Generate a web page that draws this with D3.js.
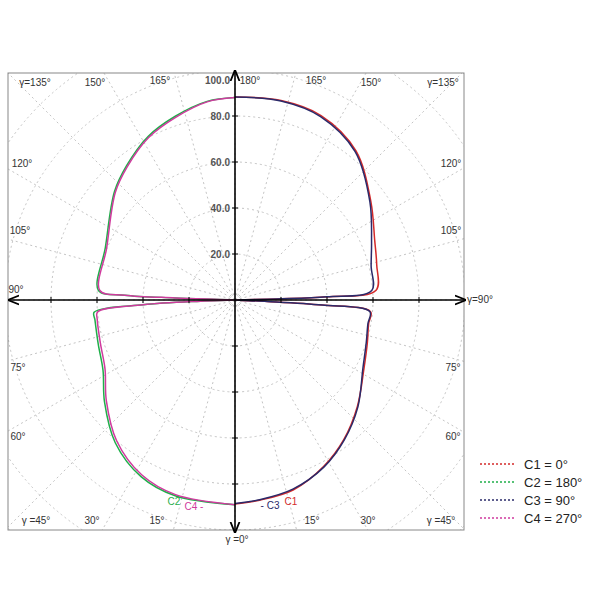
<!DOCTYPE html>
<html><head><meta charset="utf-8">
<script src="https://cdn.jsdelivr.net/npm/d3@7"></script>
<style>body{margin:0;background:#fff}text{font-family:"Liberation Sans",Arial,sans-serif}</style>
</head><body><svg id="c" width="600" height="600"></svg>
<script>
// gamma angles (deg, 0 = down, 180 = up) and intensity values per C-plane
const rightGamma = [0, 7, 17, 28, 38, 49, 62, 72, 80, 85, 86.7, 87.5, 90, 91.5, 92, 94, 104, 113, 126, 141, 155, 167, 180];
const c1Values   = [88.7, 87.7, 86.4, 82, 76.9, 70.5, 63.5, 60.5, 59, 59.2, 38, 14, 0, 18, 40, 61.5, 63.5, 66, 73, 83.5, 88.5, 89, 88.3];
const c3Values   = [88.5, 87.5, 86, 82.3, 77.2, 70.8, 63, 60, 58.7, 58.9, 38, 14, 0, 18, 40, 59.6, 61, 64.5, 72.5, 83, 88, 88.8, 88.3];
const leftGamma  = [0, 17, 28, 40, 52, 62, 72, 82, 85, 87, 88, 90, 92, 92.5, 94, 112, 132, 141, 152, 162, 172, 180];
const c2Values   = [89, 89, 87, 81, 72, 65, 62.5, 61.5, 61.5, 40, 15, 0, 26, 48, 59.5, 60.8, 70.5, 75, 80.5, 84, 87.2, 88];
const c4Values   = [89, 88.5, 86.2, 80, 71, 64, 61.5, 60.5, 60, 40, 15, 0, 26, 48, 58.9, 60.2, 70, 74.5, 80, 83.5, 87, 88];
const valueTicks = [20, 40, 60, 80, 100];
const legendLabels = ["C1 = 0°", "C2 = 180°", "C3 = 90°", "C4 = 270°"];
const colors = ["#d42a2a", "#1fae4a", "#2a2a6a", "#d03a9e"];

const svg = d3.select("#c");
const cx = 235, cy = 300, box = {x0: 8, y0: 73, x1: 464, y1: 530};
const r = d3.scaleLinear().domain([0, 20]).range([0, 46]);

svg.append("defs").append("clipPath").attr("id", "clip").append("rect")
  .attr("x", box.x0).attr("y", box.y0).attr("width", box.x1 - box.x0).attr("height", box.y1 - box.y0);
svg.append("defs").append("marker").attr("id", "arr").attr("viewBox", "0 0 10 10")
  .attr("refX", 9).attr("refY", 5).attr("markerWidth", 7).attr("markerHeight", 7).attr("orient", "auto-start-reverse")
  .append("path").attr("d", "M0,1L10,5L0,9").attr("fill", "none").attr("stroke", "#000").attr("stroke-width", 1.6);

const grid = svg.append("g").attr("clip-path", "url(#clip)");
grid.selectAll("circle").data(d3.range(20, 161, 20)).join("circle")
  .attr("cx", cx).attr("cy", cy).attr("r", d => r(d))
  .attr("fill", "none").attr("stroke", "#c4c4c4").attr("stroke-dasharray", "2,3");
grid.selectAll("line").data(d3.range(0, 360, 15)).join("line")
  .attr("x1", cx).attr("y1", cy)
  .attr("x2", d => cx + 400 * Math.sin(d * Math.PI / 180))
  .attr("y2", d => cy + 400 * Math.cos(d * Math.PI / 180))
  .attr("stroke", "#c4c4c4").attr("stroke-dasharray", "2,3");

svg.append("rect").attr("x", box.x0).attr("y", box.y0).attr("width", box.x1 - box.x0).attr("height", box.y1 - box.y0)
  .attr("fill", "none").attr("stroke", "#888");

// curves
function pt(g, v, side) {
  const a = g * Math.PI / 180;
  return [cx + side * r(v) * Math.sin(a), cy + r(v) * Math.cos(a)];
}
const series = [
  {g: rightGamma, v: c1Values, side: 1, c: colors[0]},
  {g: leftGamma, v: c2Values, side: -1, c: colors[1]},
  {g: rightGamma, v: c3Values, side: 1, c: colors[2]},
  {g: leftGamma, v: c4Values, side: -1, c: colors[3]}
];
const line = d3.line().curve(d3.curveCatmullRom.alpha(0.5));
svg.append("g").selectAll("path").data(series).join("path")
  .attr("d", s => line(s.g.map((g, i) => pt(g, s.v[i], s.side))))
  .attr("fill", "none").attr("stroke", s => s.c).attr("stroke-width", 1.5);

// axes
svg.append("line").attr("x1", box.x0 + 1).attr("x2", box.x1 + 1).attr("y1", cy).attr("y2", cy)
  .attr("stroke", "#000").attr("stroke-width", 1.6).attr("marker-start", "url(#arr)").attr("marker-end", "url(#arr)");
svg.append("line").attr("x1", cx).attr("x2", cx).attr("y1", box.y0 - 2).attr("y2", box.y1 + 2)
  .attr("stroke", "#000").attr("stroke-width", 1.6).attr("marker-start", "url(#arr)").attr("marker-end", "url(#arr)");
const tk = d3.range(-80, 81, 20).filter(d => d !== 0);
svg.selectAll(".tx").data(tk).join("line").attr("x1", d => cx + r(d)).attr("x2", d => cx + r(d))
  .attr("y1", cy - 3).attr("y2", cy + 3).attr("stroke", "#000");
svg.selectAll(".ty").data(tk).join("line").attr("y1", d => cy + r(d)).attr("y2", d => cy + r(d))
  .attr("x1", cx - 3).attr("x2", cx + 3).attr("stroke", "#000");

svg.selectAll(".vt").data(valueTicks).join("text")
  .attr("x", 230).attr("y", d => cy - r(d) + 4 + (d === 100 ? 10 : 0)).attr("text-anchor", "end")
  .attr("font-size", 10).attr("font-weight", "bold").attr("fill", "#555").text(d => d.toFixed(1));

const angleLabels = [
  ["γ=135°", 35, 86], ["150°", 95, 86], ["165°", 160, 84], ["180°", 250, 84], ["165°", 316, 84], ["150°", 371, 86], ["γ=135°", 443, 86],
  ["120°", 22, 167], ["105°", 20, 234], ["90°", 16, 293], ["120°", 451, 167], ["105°", 451, 234],
  ["75°", 18, 371], ["60°", 18, 440], ["75°", 453, 371], ["60°", 453, 440],
  ["γ =45°", 36, 524], ["30°", 92, 524], ["15°", 157, 524], ["15°", 312, 524], ["30°", 368, 524], ["γ =45°", 441, 524]
];
svg.selectAll(".al").data(angleLabels).join("text").attr("x", d => d[1]).attr("y", d => d[2])
  .attr("text-anchor", "middle").attr("font-size", 10).attr("fill", "#333").text(d => d[0]);
svg.append("text").attr("x", 467).attr("y", 303).attr("font-size", 10).attr("fill", "#333").text("γ=90°");
svg.append("text").attr("x", 237).attr("y", 543).attr("text-anchor", "middle").attr("font-size", 10).attr("fill", "#333").text("γ =0°");

const curveLabels = [["C2", 174, 505, colors[1]], ["C4 -", 194, 510, colors[3]], ["- C3", 270, 509, colors[2]], ["C1", 291, 505, colors[0]]];
svg.selectAll(".cl").data(curveLabels).join("text").attr("x", d => d[1]).attr("y", d => d[2])
  .attr("text-anchor", "middle").attr("font-size", 10).attr("fill", d => d[3]).text(d => d[0]);

// legend
const lg = svg.append("g").selectAll("g").data(legendLabels).join("g")
  .attr("transform", (d, i) => `translate(480,${464 + i * 18})`);
lg.append("line").attr("x1", 0).attr("x2", 36).attr("stroke", (d, i) => colors[i]).attr("stroke-width", 1.5).attr("stroke-dasharray", "2,2");
lg.append("text").attr("x", 44).attr("y", 5).attr("font-size", 13).attr("fill", "#222").text(d => d);
</script></body></html>
